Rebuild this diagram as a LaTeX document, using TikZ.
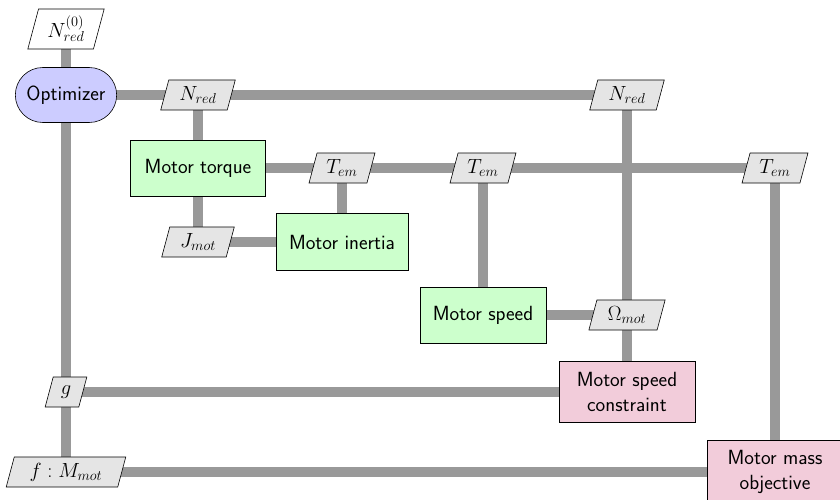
\RequirePackage{fix-cm}
\documentclass[tikz,border=0pt]{standalone}
\usetikzlibrary{shapes.geometric,shapes.misc,backgrounds}
\definecolor{pinkbox}{RGB}{242,204,218}
\definecolor{connc}{RGB}{153,153,153}
\begin{document}
\begin{tikzpicture}[x=1pt,y=-1pt,
  every node/.style={font=\sffamily\fontsize{20.5}{25}\selectfont, line width=0.6pt},
  datanode/.style={trapezium, trapezium left angle=75, trapezium right angle=105, draw, fill=black!10, minimum height=30pt, inner xsep=2pt, inner ysep=2pt},
  funcbox/.style={rectangle, draw, fill=green!20, align=center},
  optbox/.style={rounded rectangle, draw, fill=blue!20, minimum width=108pt, minimum height=55pt},
  conbox/.style={rectangle, draw, fill=pinkbox, align=center},
  conn/.style={line width=9.5pt, draw=connc}
]
\useasboundingbox (0,0) rectangle (840,500);
% nodes
\node[datanode, fill=white, minimum height=40pt, minimum width=75pt] (in0) at (66,29) {$N_{red}^{(0)}$};
\node[optbox] (opt) at (66,95) {Optimizer};
\node[datanode, minimum width=69pt] (nred1) at (198,95) {$N_{red}$};
\node[datanode, minimum width=69pt] (nred2) at (627,95) {$N_{red}$};
\node[funcbox, minimum width=135pt, minimum height=56pt] (torque) at (198,168) {Motor torque};
\node[datanode, minimum width=62pt] (tem1) at (342,168) {$T_{em}$};
\node[datanode, minimum width=62pt] (tem2) at (483,168) {$T_{em}$};
\node[datanode, minimum width=62pt] (tem3) at (775,168) {$T_{em}$};
\node[datanode, minimum width=70pt] (jmot) at (198,242) {$J_{mot}$};
\node[funcbox, minimum width=132pt, minimum height=57pt] (inertia) at (342,242) {Motor inertia};
\node[funcbox, minimum width=126pt, minimum height=56pt] (speed) at (483,315) {Motor speed};
\node[datanode, minimum width=71pt] (omega) at (627,315) {$\Omega_{mot}$};
\node[conbox, minimum width=136pt, minimum height=61pt] (speedcon) at (627,392) {Motor speed\\constraint};
\node[datanode, minimum width=36pt] (g) at (66,392) {$g$};
\node[datanode, minimum width=105pt] (f) at (66,472) {$f: M_{mot}$};
\node[conbox, minimum width=136pt, minimum height=64pt] (massobj) at (775,472) {Motor mass\\objective};
% connectors
\begin{scope}[on background layer]
\draw[conn] (in0.center) -- (opt.center);
\draw[conn] (opt.center) -- (nred1.center) -- (nred2.center);
\draw[conn] (nred1.center) -- (torque.center);
\draw[conn] (nred2.center) -- (omega.center);
\draw[conn] (omega.center) -- (speedcon.center);
\draw[conn] (torque.center) -- (tem1.center) -- (tem2.center) -- (tem3.center);
\draw[conn] (tem1.center) -- (inertia.center);
\draw[conn] (tem2.center) -- (speed.center);
\draw[conn] (tem3.center) -- (massobj.center);
\draw[conn] (torque.center) -- (jmot.center);
\draw[conn] (jmot.center) -- (inertia.center);
\draw[conn] (speed.center) -- (omega.center);
\draw[conn] (opt.center) -- (g.center) -- (f.center);
\draw[conn] (g.center) -- (speedcon.center);
\draw[conn] (f.center) -- (massobj.center);
\end{scope}
\end{tikzpicture}
\end{document}
